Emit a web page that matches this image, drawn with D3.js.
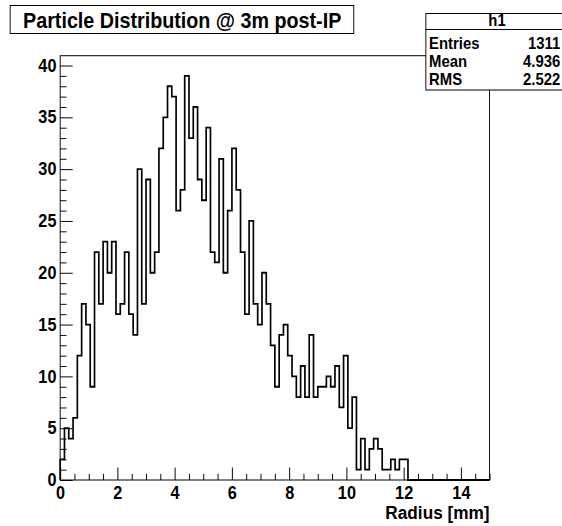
<!DOCTYPE html>
<html>
<head>
<meta charset="utf-8">
<script src="https://cdn.jsdelivr.net/npm/d3@7"></script>
<style>
  html, body { margin: 0; padding: 0; background: #fff; }
  svg { display: block; }
  text { font-family: "Liberation Sans", Arial, Helvetica, sans-serif; font-weight: bold; fill: #000; }
</style>
</head>
<body>
<script>
// h1: 100 bins over [0, 15] mm, counts
var binLow = 0, binHigh = 15;
var counts = [
   2,  5,  4,  6, 12, 17, 15,  9, 22, 17,
  23, 20, 23, 16, 17, 22, 16, 14, 30, 17,
  29, 20, 22, 32, 35, 38, 37, 26, 28, 39,
  33, 36, 29, 27, 34, 22, 21, 31, 20, 26,
  32, 28, 22, 16, 25, 17, 15, 20, 17, 13,
   9, 14, 15, 12, 10,  8, 11,  8, 14,  8,
   9,  9, 10,  9, 11,  7, 12,  5,  8,  1,
   4,  1,  3,  4,  3,  1,  1,  2,  1,  2,
   2,  0,  0,  0,  0,  0,  0,  0,  0,  0,
   0,  0,  0,  0,  0,  0,  0,  0,  0,  0
];
var xMajor = [0, 2, 4, 6, 8, 10, 12, 14];
var yMajor = [0, 5, 10, 15, 20, 25, 30, 35, 40];
var title = "Particle Distribution @ 3m post-IP";
var xTitle = "Radius [mm]";
var statsName = "h1";
var statsRows = [["Entries", "1311"], ["Mean", "4.936"], ["RMS", "2.522"]];

var W = 562, H = 526;
// the canvas is laid out on a wider grid and squeezed horizontally into 562px
var vbX = -5.4, vbW = 604.3;
var frame = {left: 59.3, right: 521, top: 55.7, bottom: 480};

var svg = d3.select("body").append("svg")
    .attr("width", W)
    .attr("height", H)
    .attr("viewBox", vbX + " 0 " + vbW + " " + H)
    .attr("preserveAspectRatio", "none");

var yMax = d3.max(counts) * 1.05;

var x = d3.scaleLinear()
    .domain([binLow, binHigh])
    .range([frame.left, frame.right]);

var y = d3.scaleLinear()
    .domain([0, yMax])
    .range([frame.bottom, frame.top]);

var xMinor = d3.range(0, 15.001, 0.5).filter(function(v) { return v % 2 !== 0; });
var yMinor = d3.range(0, 41, 1).filter(function(v) { return v % 5 !== 0; });

svg.append("g")
    .attr("transform", "translate(0," + frame.bottom + ")")
    .call(d3.axisBottom(x).tickValues(xMinor).tickSize(-6.2).tickFormat(""))
    .call(function(g) { g.select(".domain").remove(); });

svg.append("g")
    .attr("transform", "translate(0," + frame.bottom + ")")
    .call(d3.axisBottom(x).tickValues(xMajor).tickSize(-12.5).tickPadding(6.5).tickFormat(d3.format("d")))
    .call(function(g) {
      g.select(".domain").remove();
      g.selectAll("text").style("font-size", "17.5px").style("font-family", null);
    });

svg.append("g")
    .attr("transform", "translate(" + frame.left + ",0)")
    .call(d3.axisLeft(y).tickValues(yMinor).tickSize(-6.8).tickFormat(""))
    .call(function(g) { g.select(".domain").remove(); });

svg.append("g")
    .attr("transform", "translate(" + frame.left + ",0)")
    .call(d3.axisLeft(y).tickValues(yMajor).tickSize(-13.5).tickPadding(4).tickFormat(d3.format("d")))
    .call(function(g) {
      g.select(".domain").remove();
      g.selectAll("text").style("font-size", "17.5px").style("font-family", null);
    });

svg.selectAll(".tick line").attr("stroke", "#000").attr("stroke-width", 1);

// histogram outline
var bw = (binHigh - binLow) / counts.length;
var pts = [[binLow, 0]];
counts.forEach(function(c, i) { pts.push([binLow + i * bw, c]); });
pts.push([binHigh, 0]);

var line = d3.line()
    .x(function(d) { return x(d[0]); })
    .y(function(d) { return y(d[1]); })
    .curve(d3.curveStepAfter);

svg.append("path")
    .datum(pts)
    .attr("d", line)
    .attr("fill", "none")
    .attr("stroke", "#000")
    .attr("stroke-width", 1.8);

// frame
svg.append("rect")
    .attr("x", frame.left)
    .attr("y", frame.top)
    .attr("width", frame.right - frame.left)
    .attr("height", frame.bottom - frame.top)
    .attr("fill", "none")
    .attr("stroke", "#000")
    .attr("stroke-width", 1);

// x axis title
svg.append("text")
    .attr("x", frame.right)
    .attr("y", 519)
    .attr("text-anchor", "end")
    .style("font-size", "18.5px")
    .text(xTitle);

// title box
svg.append("rect")
    .attr("x", 5.5).attr("y", 5.5)
    .attr("width", 369.5).attr("height", 28)
    .attr("fill", "#fff")
    .attr("stroke", "#000")
    .attr("stroke-width", 1);

svg.append("text")
    .attr("x", 190.5)
    .attr("y", 28.3)
    .attr("text-anchor", "middle")
    .style("font-size", "21.2px")
    .text(title);

// stats box
var sb = svg.append("g");
sb.append("rect")
    .attr("x", 452.5).attr("y", 13.5)
    .attr("width", 160).attr("height", 76.5)
    .attr("fill", "#fff")
    .attr("stroke", "#000")
    .attr("stroke-width", 1);
sb.append("line")
    .attr("x1", 452.5).attr("x2", 612)
    .attr("y1", 29.5).attr("y2", 29.5)
    .attr("stroke", "#000");
sb.append("text")
    .attr("x", 529).attr("y", 26.5)
    .attr("text-anchor", "middle")
    .style("font-size", "16px")
    .text(statsName);
var rowY = [49.3, 67, 85];
statsRows.forEach(function(r, i) {
  sb.append("text").attr("x", 456).attr("y", rowY[i]).style("font-size", "16px").text(r[0]);
  sb.append("text").attr("x", 597).attr("y", rowY[i]).attr("text-anchor", "end").style("font-size", "16px").text(r[1]);
});
</script>
</body>
</html>
